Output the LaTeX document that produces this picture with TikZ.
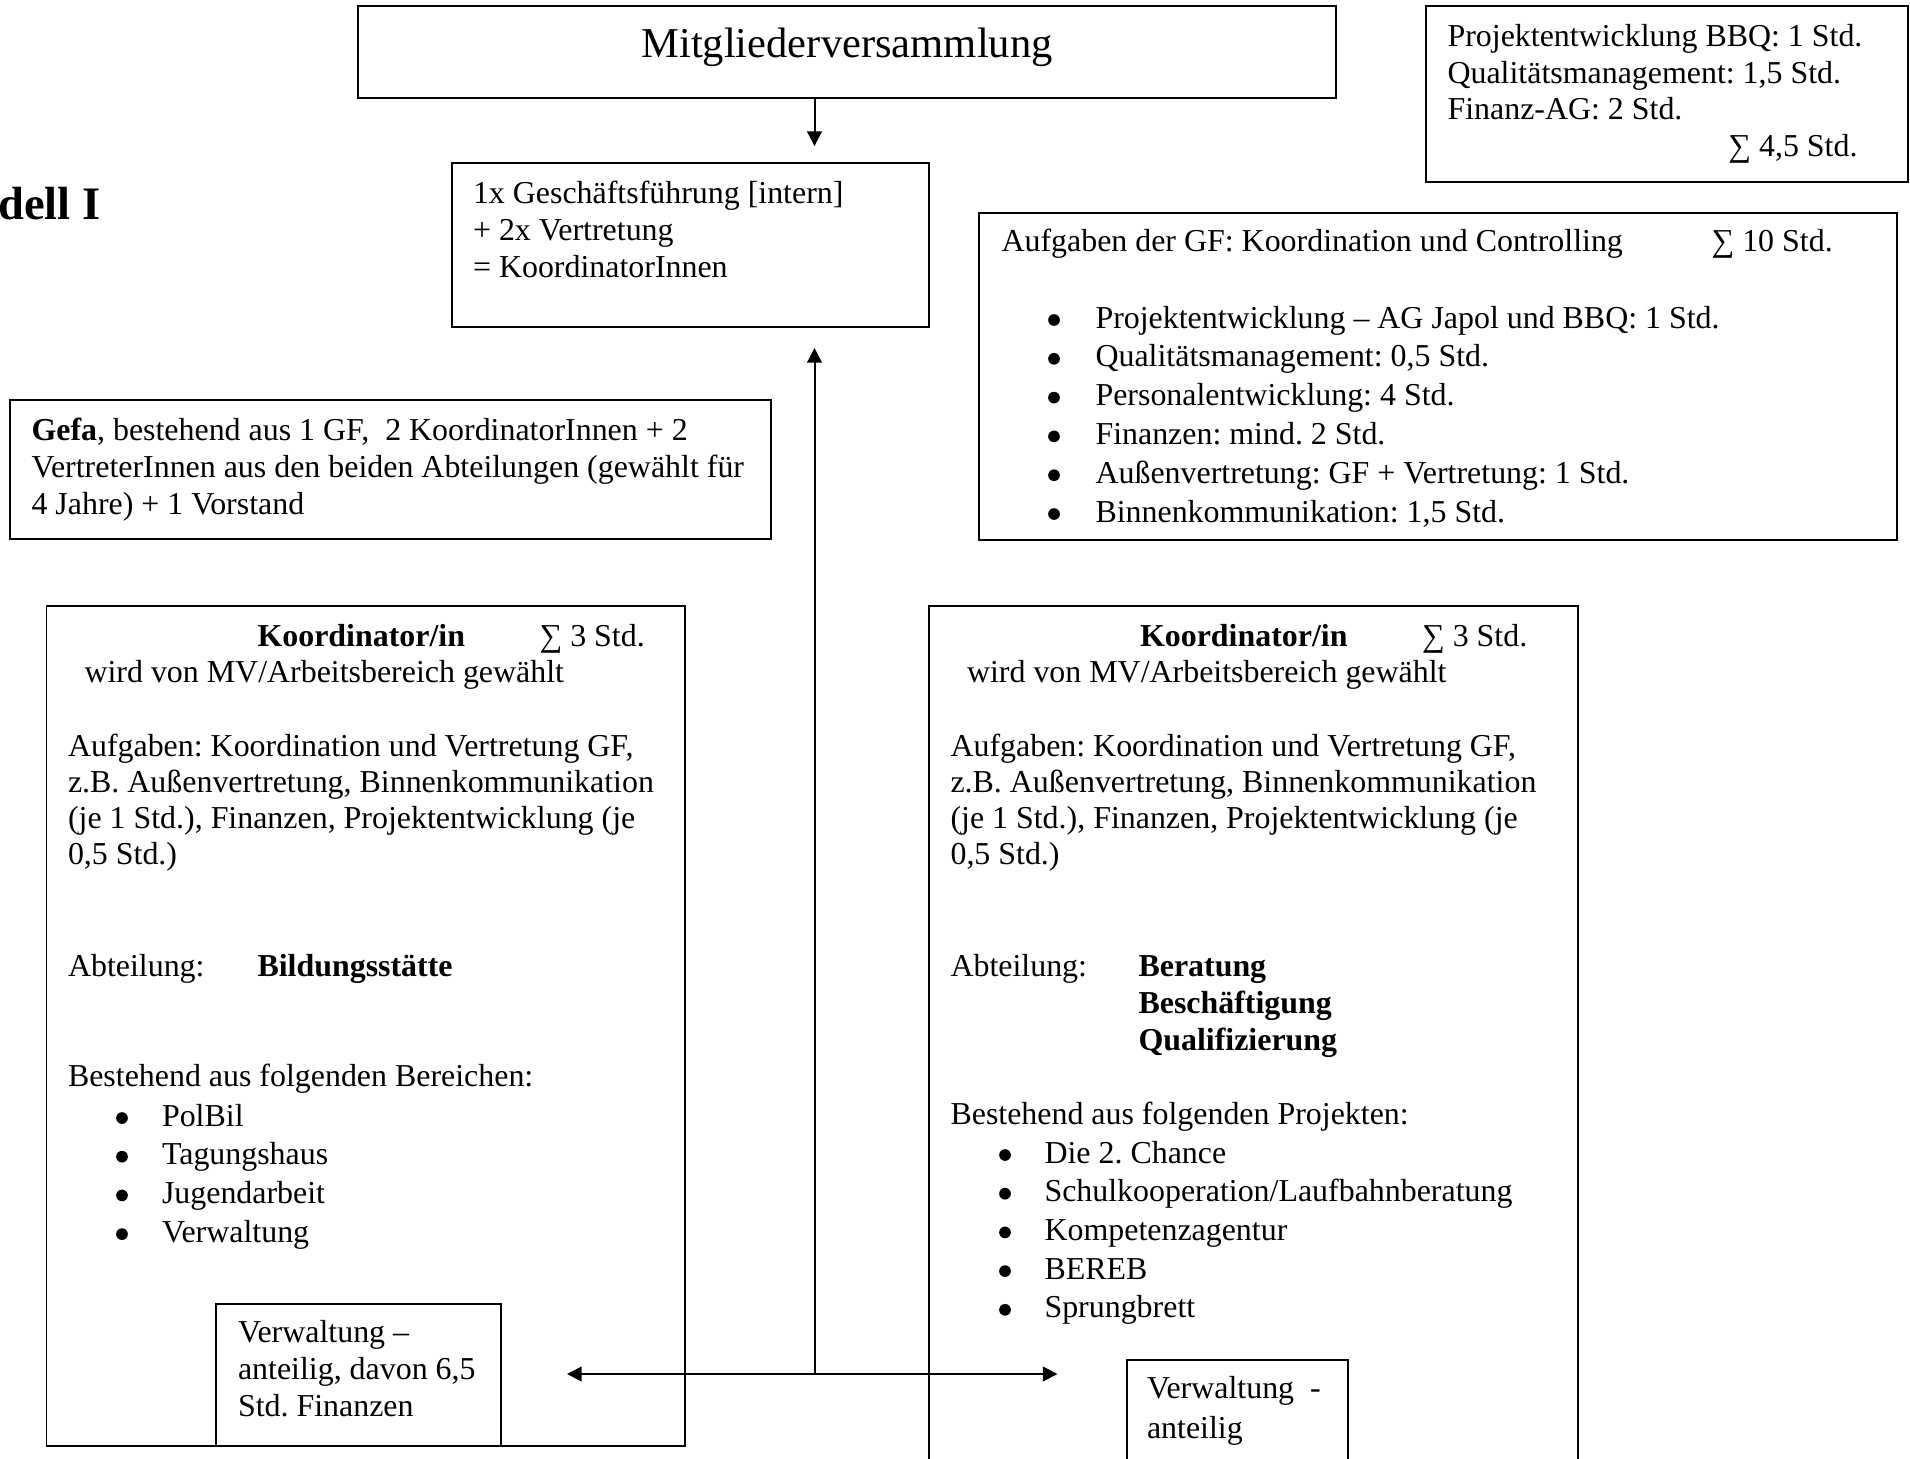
\documentclass[tikz,border=0pt]{standalone}
\usepackage{fontspec}
\setmainfont{Liberation Serif}
\frenchspacing
\usetikzlibrary{arrows.meta,fit}

\tikzset{
    box/.style={draw, line width=0.75pt, inner sep=0pt},
    txt/.style={anchor=base west, inner sep=0pt, font=\fontsize{12}{14}\selectfont},
    dot/.style={circle, fill, inner sep=0pt, minimum size=4.4pt},
    arr/.style={line width=0.75pt, -{Triangle[length=5.5pt,width=5.5pt]}},
}

\begin{document}
\begin{tikzpicture}[x=0.376pt, y=-0.376pt]
    \useasboundingbox (0,0) rectangle (1910,1458);

    % Boxes
    \node[box, fit={(358,6) (1336,98)}] (mv) {};
    \node[box, fit={(1426,6) (1908,182)}] (sumbox) {};
    \node[box, fit={(452,163) (929,327)}] (gf) {};
    \node[box, fit={(979,213) (1897,540)}] (tasks) {};
    \node[box, fit={(10,400) (771,539)}] (gefa) {};
    \node[box, fit={(46.5,606) (685,1446)}] (koordl) {};
    \node[box, fit={(929,606) (1578,1480)}] (koordr) {};
    \node[box, fit={(215.5,1304) (501,1446)}] (vwl) {};
    \node[box, fit={(1126.5,1360) (1348,1480)}] (vwr) {};

    % Title, cut at the page edge
    \node[txt, anchor=base east, font=\fontsize{17.5}{21}\selectfont\bfseries] (title) at (101,219) {dell I};

    \node[txt, anchor=base, font=\fontsize{16}{19}\selectfont] (mvtext) at (847,57) {Mitgliederversammlung};

    % Stunden der AGs
    \node[txt] (sum1) at (1447,46.5) {Projektentwicklung BBQ: 1 Std.};
    \node[txt] (sum2) at (1447,83) {Qualitätsmanagement: 1,5 Std.};
    \node[txt] (sum3) at (1447,119.5) {Finanz-AG: 2 Std.};
    \node[txt, anchor=base east] (sum4) at (1858,156) {∑ 4,5 Std.};

    % Geschäftsführung
    \node[txt] (gf1) at (472.5,203.5) {1x Geschäftsführung [intern]};
    \node[txt] (gf2) at (472.5,240) {+ 2x Vertretung};
    \node[txt] (gf3) at (472.5,277) {= KoordinatorInnen};

    % Aufgaben der GF
    \node[txt] (taskhead) at (1001,251) {Aufgaben der GF: Koordination und Controlling};
    \node[txt] (tasksum) at (1711,251) {∑ 10 Std.};
    \foreach \t [count=\i] in {{Projektentwicklung -- AG Japol und BBQ: 1 Std.},
        {Qualitätsmanagement: 0,5 Std.}, {Personalentwicklung: 4 Std.},
        {Finanzen: mind. 2 Std.}, {Außenvertretung: GF + Vertretung: 1 Std.},
        {Binnenkommunikation: 1,5 Std.}} {
        \node[dot] (taskdot\i) at (1054,{281.2+38.8*\i}) {};
        \node[txt] (task\i) at (1095,{289.2+38.8*\i}) {\t};
    }

    % Gefa
    \node[txt] (gefa1) at (31,440) {\textbf{Gefa}, bestehend aus 1 GF, \ 2 KoordinatorInnen + 2};
    \node[txt] (gefa2) at (31,477) {VertreterInnen aus den beiden Abteilungen (gewählt für};
    \node[txt] (gefa3) at (31,514) {4 Jahre) + 1 Vorstand};

    % Koordinator/in, both departments
    \foreach \dx/\s in {0/l, 882.5/r} {
        \node[txt] (kname\s) at ({257+\dx},646) {\textbf{Koordinator/in}};
        \node[txt] (ksum\s) at ({539+\dx},646) {∑ 3 Std.};
        \node[txt] (kwahl\s) at ({84+\dx},682) {wird von MV/Arbeitsbereich gewählt};
        \node[txt] (kauf1\s) at ({67.5+\dx},756) {Aufgaben: Koordination und Vertretung GF,};
        \node[txt] (kauf2\s) at ({67.5+\dx},792) {z.B. Außenvertretung, Binnenkommunikation};
        \node[txt] (kauf3\s) at ({67.5+\dx},828) {(je 1 Std.), Finanzen, Projektentwicklung (je};
        \node[txt] (kauf4\s) at ({67.5+\dx},864) {0,5 Std.)};
        \node[txt] (kabt\s) at ({67.5+\dx},976) {Abteilung:};
    }

    % Bildungsstätte
    \node[txt] (abtl) at (257,976) {\textbf{Bildungsstätte}};
    \node[txt] (bereiche) at (67.5,1086.5) {Bestehend aus folgenden Bereichen:};
    \foreach \t [count=\i] in {PolBil, Tagungshaus, Jugendarbeit, Verwaltung} {
        \node[dot] (ldot\i) at (122,{1079.3+38.7*\i}) {};
        \node[txt] (litem\i) at (161.5,{1087.3+38.7*\i}) {\t};
    }
    \node[txt] (vwl1) at (237.5,1342.5) {Verwaltung --};
    \node[txt] (vwl2) at (237.5,1379.5) {anteilig, davon 6,5};
    \node[txt] (vwl3) at (237.5,1416) {Std. Finanzen};

    % Beratung / Beschäftigung / Qualifizierung
    \node[txt] (abtr1) at (1138,976) {\textbf{Beratung}};
    \node[txt] (abtr2) at (1138,1013) {\textbf{Beschäftigung}};
    \node[txt] (abtr3) at (1138,1050) {\textbf{Qualifizierung}};
    \node[txt] (projekte) at (950,1124) {Bestehend aus folgenden Projekten:};
    \foreach \t [count=\i] in {Die 2. Chance, Schulkooperation/Laufbahnberatung,
        Kompetenzagentur, BEREB, Sprungbrett} {
        \node[dot] (rdot\i) at (1005,{1116.3+38.7*\i}) {};
        \node[txt] (ritem\i) at (1044,{1124.3+38.7*\i}) {\t};
    }
    \node[txt] (vwr1) at (1146.5,1398) {Verwaltung \ -};
    \node[txt] (vwr2) at (1146.5,1438) {anteilig};

    % Arrows
    \coordinate (hub) at (814.5,1374);
    \coordinate (lefttip) at (567,1374);
    \coordinate (righttip) at (1057.5,1374);
    \draw[arr, shorten >=6pt] (mv.south -| hub) -- (gf.north -| hub);
    \draw[arr, shorten >=7.5pt] (hub) -- (gf.south -| hub);
    \draw[arr] (hub) -- (lefttip);
    \draw[arr] (hub) -- (righttip);
\end{tikzpicture}
\end{document}
